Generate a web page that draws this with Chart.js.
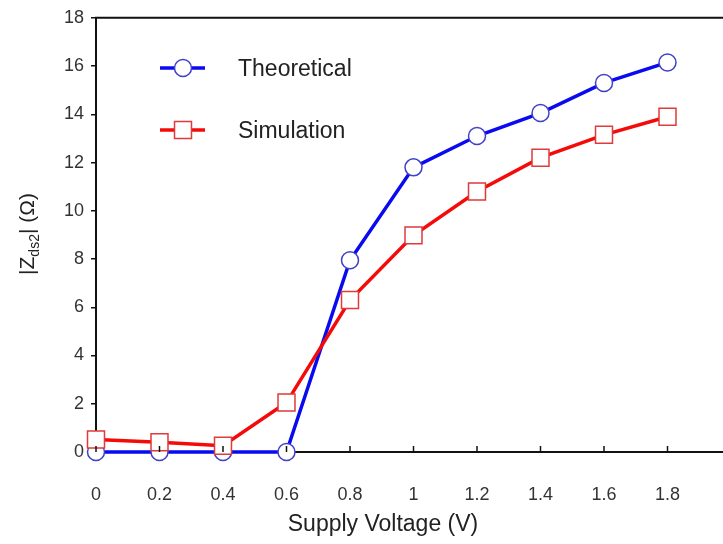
<!DOCTYPE html>
<html>
<head>
<meta charset="utf-8">
<script src="https://cdn.jsdelivr.net/npm/chart.js@4"></script>
<style>
  html, body { margin: 0; padding: 0; background: #fff; overflow: hidden; }
  #wrap { position: absolute; left: 0; top: 0; width: 733px; height: 544px; }
</style>
</head>
<body>
<div id="wrap"><canvas id="grafico"></canvas></div>
<script>
// tensão de alimentação (V)
const tensoes = [0, 0.2, 0.4, 0.6, 0.8, 1.0, 1.2, 1.4, 1.6, 1.8];
// |Zds2| em ohms
const teorico = [0, 0, 0, 0, 7.95, 11.8, 13.1, 14.05, 15.3, 16.15];
const simulacao = [0.52, 0.4, 0.26, 2.05, 6.3, 8.98, 10.8, 12.2, 13.15, 13.9];
const yTicks = [0, 2, 4, 6, 8, 10, 12, 14, 16, 18];
const xTicks = [0, 0.2, 0.4, 0.6, 0.8, 1, 1.2, 1.4, 1.6, 1.8, 2];

const FONTE = '"Liberation Sans", Arial, sans-serif';

const pontos = (xs, ys) => xs.map((x, i) => ({ x, y: ys[i] }));

// legenda dentro da área do gráfico, títulos dos eixos e borda superior
const extras = {
  id: 'extras',
  afterDraw(chart) {
    const { ctx, chartArea, scales } = chart;
    ctx.save();

    // borda superior
    ctx.strokeStyle = '#111';
    ctx.lineWidth = 2;
    ctx.beginPath();
    ctx.moveTo(chartArea.left - 1, chartArea.top);
    ctx.lineTo(chartArea.right, chartArea.top);
    ctx.stroke();

    // marcas do eixo X para dentro
    ctx.lineWidth = 1.5;
    xTicks.forEach(v => {
      const px = scales.x.getPixelForValue(v);
      ctx.beginPath();
      ctx.moveTo(px, chartArea.bottom);
      ctx.lineTo(px, chartArea.bottom - 6);
      ctx.stroke();
    });

    // legenda
    const itens = [
      { ds: chart.data.datasets[0], y: 68 },
      { ds: chart.data.datasets[1], y: 130 }
    ];
    itens.forEach(({ ds, y }) => {
      ctx.strokeStyle = ds.borderColor;
      ctx.lineWidth = ds.borderWidth;
      ctx.beginPath();
      ctx.moveTo(160, y);
      ctx.lineTo(205, y);
      ctx.stroke();
      ctx.fillStyle = ds.pointBackgroundColor;
      ctx.strokeStyle = ds.pointBorderColor;
      ctx.lineWidth = ds.pointBorderWidth;
      Chart.helpers.drawPoint(ctx, {
        pointStyle: ds.pointStyle, radius: ds.pointRadius, rotation: 0, borderWidth: ds.pointBorderWidth
      }, 183, y);
      ctx.fillStyle = '#222';
      ctx.font = '23px ' + FONTE;
      ctx.textAlign = 'left';
      ctx.textBaseline = 'middle';
      ctx.fillText(ds.label, 238, y + 2);
    });

    // título do eixo X
    ctx.fillStyle = '#222';
    ctx.font = '23px ' + FONTE;
    ctx.textAlign = 'center';
    ctx.textBaseline = 'middle';
    ctx.fillText('Supply Voltage (V)', 383, 525);

    // título do eixo Y: |Zds2| (Ω)
    ctx.translate(27, 234);
    ctx.rotate(-Math.PI / 2);
    ctx.textBaseline = 'alphabetic';
    ctx.textAlign = 'left';
    const partes = [
      { t: '|Z', f: 21, dy: 0 },
      { t: 'ds2', f: 14, dy: 5 },
      { t: '| (Ω)', f: 21, dy: 0 }
    ];
    let total = 0;
    partes.forEach(p => { ctx.font = p.f + 'px ' + FONTE; p.w = ctx.measureText(p.t).width; total += p.w; });
    let x = -total / 2;
    partes.forEach(p => {
      ctx.font = p.f + 'px ' + FONTE;
      ctx.fillText(p.t, x, 7 + p.dy);
      x += p.w;
    });

    ctx.restore();
  }
};

new Chart(document.getElementById('grafico'), {
  type: 'line',
  data: {
    datasets: [
      {
        label: 'Theoretical',
        data: pontos(tensoes, teorico),
        borderColor: '#0a0af0',
        borderWidth: 3.5,
        pointStyle: 'circle',
        pointRadius: 8.5,
        pointHoverRadius: 8.5,
        pointBackgroundColor: '#ffffff',
        pointBorderColor: '#4040c8',
        pointBorderWidth: 1.5,
        order: 1,
        clip: false
      },
      {
        label: 'Simulation',
        data: pontos(tensoes, simulacao),
        borderColor: '#f50a0a',
        borderWidth: 3.5,
        pointStyle: 'rect',
        pointRadius: 12,
        pointHoverRadius: 12,
        pointBackgroundColor: '#ffffff',
        pointBorderColor: '#e03a3a',
        pointBorderWidth: 1.5,
        order: 0,
        clip: false
      }
    ]
  },
  options: {
    responsive: true,
    maintainAspectRatio: false,
    animation: false,
    devicePixelRatio: 1,
    layout: { autoPadding: false, padding: { top: 15, right: 2, left: 0, bottom: 0 } },
    plugins: {
      legend: { display: false },
      tooltip: { enabled: false },
      title: { display: false }
    },
    scales: {
      x: {
        type: 'linear',
        min: 0,
        max: 2,
        // o padding dos rótulos não deve encolher a área do gráfico à direita
        afterFit: s => { s.height = 92; s.paddingRight = 0; },
        afterBuildTicks: s => { s.ticks = xTicks.map(v => ({ value: v })); },
        grid: { drawOnChartArea: false, drawTicks: false },
        border: { display: true, color: '#111', width: 2 },
        ticks: {
          padding: 32,
          color: '#333',
          font: { family: FONTE, size: 18 },
          maxRotation: 0,
          callback: v => (v >= 2 ? '' : String(Math.round(v * 10) / 10))
        }
      },
      y: {
        min: 0,
        max: 18,
        afterFit: s => { s.width = 96; },
        afterBuildTicks: s => { s.ticks = yTicks.map(v => ({ value: v })); },
        grid: { drawOnChartArea: false, drawTicks: true, tickLength: 5, color: '#111', lineWidth: 1.5 },
        border: { display: true, color: '#111', width: 2 },
        ticks: {
          padding: 7,
          color: '#333',
          font: { family: FONTE, size: 18 }
        }
      }
    }
  },
  plugins: [extras]
});
</script>
</body>
</html>
